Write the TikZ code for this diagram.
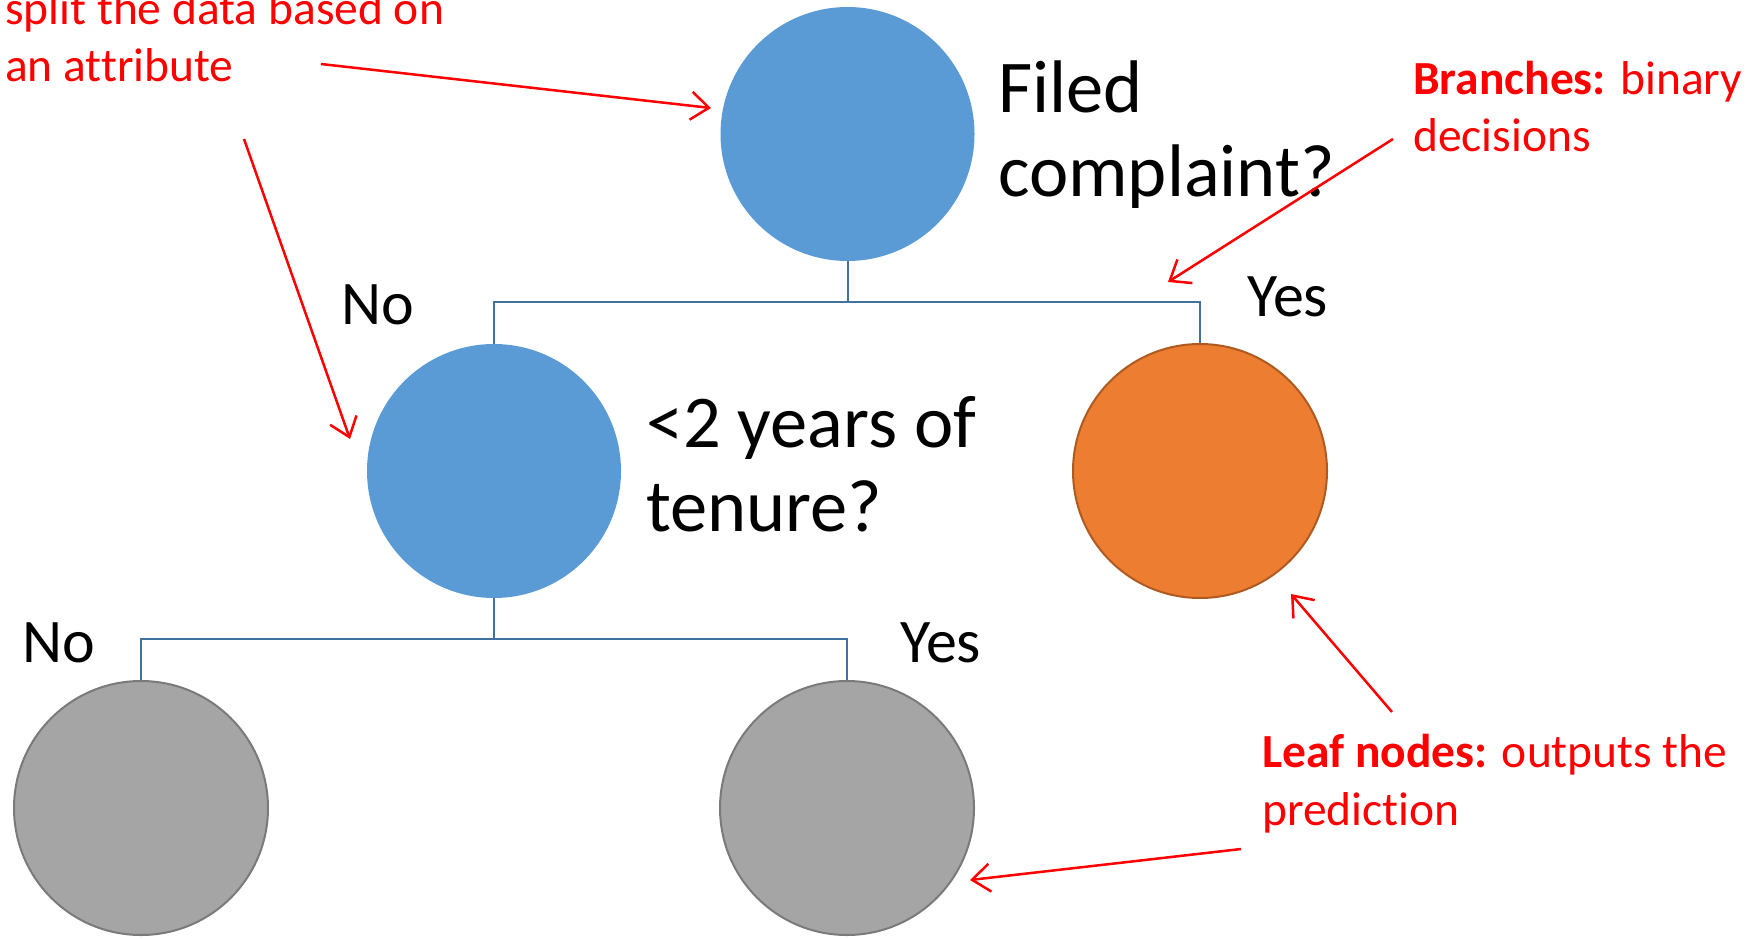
\documentclass[tikz,border=0pt]{standalone}
\usepackage{fontspec}
\setmainfont[Ligatures=NoCommon]{Carlito}
\usetikzlibrary{arrows.meta}
\definecolor{nodeblue}{HTML}{5B9BD5}
\definecolor{nodeorange}{HTML}{ED7D31}
\definecolor{orangeedge}{HTML}{AE5A21}
\definecolor{nodegray}{HTML}{A5A5A5}
\definecolor{grayedge}{HTML}{7A7A7A}
\definecolor{linkblue}{HTML}{41719C}
\definecolor{notered}{HTML}{FF0000}
\tikzset{
  tnode/.style={circle, minimum size=254pt, inner sep=0pt},
  decision/.style={tnode, fill=nodeblue},
  leafyes/.style={tnode, fill=nodeorange, draw=orangeedge, line width=2pt},
  leafgray/.style={tnode, fill=nodegray, draw=grayedge, line width=2pt},
  link/.style={draw=linkblue, line width=2pt},
  question/.style={anchor=base west, inner sep=0pt, align=left,
    font=\fontsize{74.5}{84}\selectfont},
  answer/.style={anchor=base west, inner sep=0pt,
    font=\fontsize{62}{70}\selectfont},
  note/.style={anchor=base west, inner sep=0pt, align=left, text=notered,
    font=\fontsize{47.5}{57.5}\selectfont},
  pointer/.style={draw=notered, line width=2.5pt,
    -{Straight Barb[length=18pt,width=28pt,line width=2.5pt]}},
}
\begin{document}
\begin{tikzpicture}[x=1pt,y=-1pt]
  \useasboundingbox (0,0) rectangle (1753,939);

  % tree nodes
  \node[decision] (root) at (847.5,134) {};
  \node[decision] (tenure) at (494,471) {};
  \node[leafyes] (yesleaf) at (1200,471) {};
  \node[leafgray] (nono) at (141,808) {};
  \node[leafgray] (noyes) at (847,808) {};

  % branch connectors
  \coordinate (j1) at (847.5,302);
  \coordinate (j2) at (494,639);
  \draw[link] (root.south) -- (j1);
  \draw[link] (tenure.north) -- (tenure.north |- j1) -- (yesleaf.north |- j1) -- (yesleaf.north);
  \draw[link] (tenure.south) -- (j2);
  \draw[link] (nono.north) -- (nono.north |- j2) -- (noyes.north |- j2) -- (noyes.north);

  % questions and branch labels (anchored at the last line's baseline)
  \node[question] (q1) at (998,196) {Filed\\complaint?};
  \node[question] (q2) at (646,531) {<2 years of\\tenure?};
  \node[answer] (lno1) at (341,324) {No};
  \node[answer] (lyes1) at (1247,316) {Yes};
  \node[answer] (lno2) at (22,662) {No};
  \node[answer] (lyes2) at (900,662) {Yes};

  % annotations
  \node[note] (nsplit) at (5,82) {split the data based on\\an attribute};
  \node[note] (nbranch) at (1413,152) {\textbf{Branches:} binary\\decisions};
  \node[note] (nleaf) at (1262,825) {\textbf{Leaf nodes:} outputs the\\prediction};

  \coordinate (s1) at (321,64);
  \coordinate (s1t) at (711,108);
  \coordinate (s2) at (244,139);
  \coordinate (s2t) at (350,439);
  \coordinate (b1) at (1393,139);
  \coordinate (b1t) at (1168,282);
  \coordinate (l1) at (1392,712);
  \coordinate (l1t) at (1291,594);
  \coordinate (l2) at (1241,849);
  \coordinate (l2t) at (970,880);
  \draw[pointer] (s1) -- (s1t);
  \draw[pointer] (s2) -- (s2t);
  \draw[pointer] (b1) -- (b1t);
  \draw[pointer] (l1) -- (l1t);
  \draw[pointer] (l2) -- (l2t);
\end{tikzpicture}
\end{document}
